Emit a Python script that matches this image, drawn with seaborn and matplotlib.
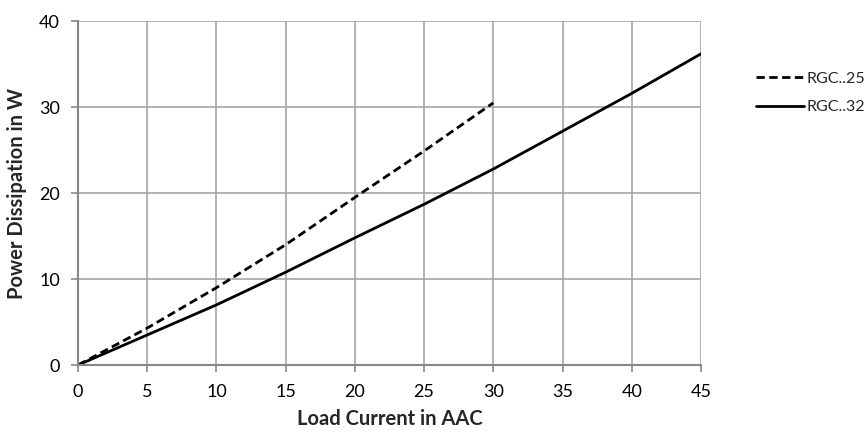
import numpy as np
import matplotlib
matplotlib.use("Agg")
import matplotlib.pyplot as plt
import pandas as pd
import seaborn as sns

# Values
current_25 = [0, 5, 10, 15, 20, 25, 30]
power_25 = [0, 4.3, 9.0, 14.0, 19.5, 24.9, 30.5]

current_32 = [0, 5, 10, 15, 20, 25, 30, 35, 40, 45]
power_32 = [0, 3.5, 7.0, 10.8, 14.8, 18.7, 22.8, 27.2, 31.6, 36.2]

x_ticks = [0, 5, 10, 15, 20, 25, 30, 35, 40, 45]
y_ticks = [0, 10, 20, 30, 40]

df = pd.concat([
    pd.DataFrame({'current': current_25, 'power': power_25, 'type': 'RGC..25'}),
    pd.DataFrame({'current': current_32, 'power': power_32, 'type': 'RGC..32'}),
])

sns.set_theme(style="white")
plt.rcParams['font.family'] = ['Lato', 'DejaVu Sans']

fig = plt.figure(figsize=(8.67, 4.32), dpi=100)
ax = fig.add_axes([0.09, 0.155, 0.7185, 0.796])

sns.lineplot(data=df, x='current', y='power', hue='type', style='type',
             palette={'RGC..25': 'black', 'RGC..32': 'black'},
             dashes={'RGC..25': (3, 1.6), 'RGC..32': ''},
             linewidth=2, ax=ax, legend=True)

ax.set_xlim(0, 45)
ax.set_ylim(0, 40)
ax.set_xticks(x_ticks)
ax.set_yticks(y_ticks)
ax.grid(True, color='#a6a6a6', linewidth=1.2)
ax.set_axisbelow(True)
for name, sp in ax.spines.items():
    if name in ('left', 'bottom'):
        sp.set_color('#888888')
        sp.set_linewidth(1.5)
    else:
        sp.set_visible(False)
ax.tick_params(axis='both', which='both', direction='out', length=5, width=1.2,
               color='#888888', labelsize=13, labelcolor='black',
               bottom=True, left=True)
ax.tick_params(axis='x', pad=9)
ax.tick_params(axis='y', pad=8)

ax.set_xlabel('Load Current in AAC', fontsize=14.5, fontweight='bold', labelpad=6)
ax.set_ylabel('Power Dissipation in W', fontsize=14.5, fontweight='bold', labelpad=9)

handles, labels = ax.get_legend_handles_labels()
ax.legend(handles, labels, loc='upper left', bbox_to_anchor=(1.065, 0.895),
          frameon=False, fontsize=11.5, handlelength=3.0, handletextpad=0.2,
          labelspacing=0.9)

fig.savefig('out.png', dpi=100)
